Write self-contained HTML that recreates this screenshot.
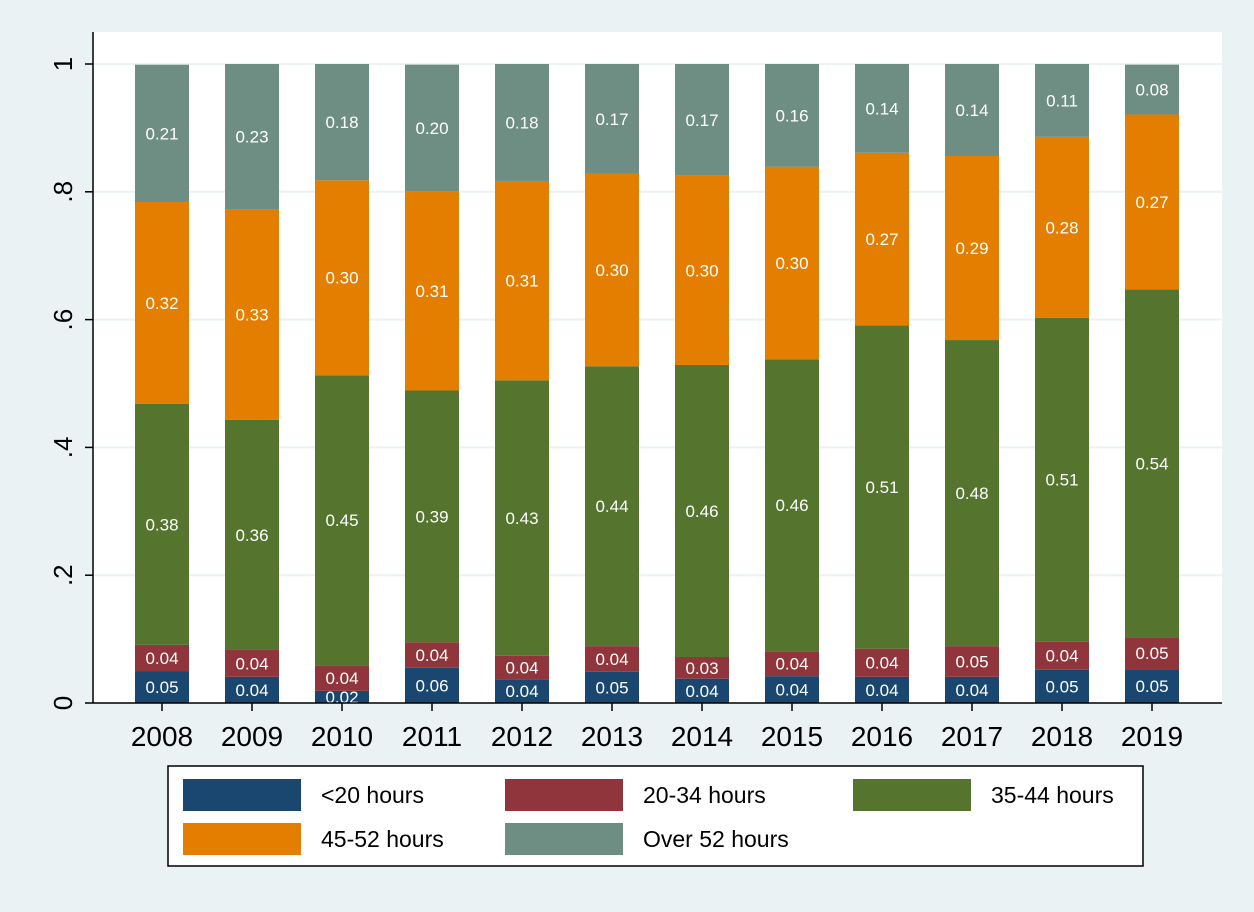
<!DOCTYPE html>
<html><head><meta charset="utf-8"><style>
body{margin:0;background:#eaf2f3;}
svg{display:block;font-family:"Liberation Sans",sans-serif;}
</style></head><body>
<svg id="chart" width="1254" height="912">
<rect x="0" y="0" width="1254" height="912" fill="#eaf2f3"/>
<rect x="93" y="32" width="1129" height="671" fill="#ffffff"/>
<g id="grid"></g><g id="bars"></g><g id="axes"></g>
<g>
<rect x="168" y="766" width="975" height="100" fill="#fff" stroke="#000" stroke-width="1.5"/>
<g id="legend"></g>
</g>
</svg>
<script>
const years=["2008","2009","2010","2011","2012","2013","2014","2015","2016","2017","2018","2019"];
const lt20=[.050,.041,.019,.055,.037,.049,.038,.042,.041,.041,.052,.053];
const h20_34=[.041,.042,.040,.040,.037,.040,.034,.039,.044,.048,.044,.050];
const h35_44=[.377,.360,.454,.394,.431,.438,.457,.457,.506,.479,.507,.544];
const h45_52=[.316,.330,.305,.311,.312,.301,.296,.301,.270,.288,.283,.274];
const over52=[.2149,.227,.182,.199,.183,.172,.175,.161,.139,.144,.114,.078];
const seriesNames=["<20 hours","20-34 hours","35-44 hours","45-52 hours","Over 52 hours"];
const yTicks=[0,.2,.4,.6,.8,1];
const yTickLabels=["0",".2",".4",".6",".8","1"];
const colors=["#1a476f","#90353b","#55752f","#e37e00","#6e8e84"];
const series=[lt20,h20_34,h35_44,h45_52,over52];
const NS="http://www.w3.org/2000/svg";
const y=v=>703-v*639;
const x=i=>162+i*90;
const bw=54;
function mk(t,a,p){const e=document.createElementNS(NS,t);for(const k in a)e.setAttribute(k,a[k]);p.appendChild(e);return e;}
const grid=document.getElementById('grid'),bars=document.getElementById('bars'),axes=document.getElementById('axes'),leg=document.getElementById('legend');
yTicks.forEach((t,i)=>{
 if(t>0){const g=mk('line',{x1:93,x2:1222,y1:y(t),y2:y(t),stroke:'#eaf2f3','stroke-width':2},grid);
 
 }
 const tk=mk('line',{x1:85,x2:93,y1:y(t),y2:y(t),stroke:'#000','stroke-width':1.5},axes);
 
 
 const tl=mk('text',{x:0,y:0,'font-size':26,'text-anchor':'middle',transform:`translate(72,${y(t)}) rotate(-90)`},axes);
 tl.textContent=yTickLabels[i];
 
 
});
years.forEach((yr,i)=>{
 let c=0;
 series.forEach((s,k)=>{
  const v=s[i];
  const top=Math.min(c+v,1);
  const r=mk('rect',{x:x(i)-bw/2,y:y(top),width:bw,height:(top-c)*639,fill:colors[k]},bars);
  
  
  const tx=mk('text',{x:x(i),y:y(c+v/2)+6,'font-size':17,fill:'#fff','text-anchor':'middle'},bars);
  tx.textContent=v.toFixed(2);
  
  
  c+=v;
 });
 const xl=mk('text',{x:x(i),y:746,'font-size':28,'text-anchor':'middle'},axes);
 xl.textContent=yr;
 
 
 const xt=mk('line',{x1:x(i),x2:x(i),y1:703,y2:711,stroke:'#000','stroke-width':1.5},axes);
 
 
});
const ya=mk('line',{x1:93,x2:93,y1:32,y2:703,stroke:'#000','stroke-width':1.5},axes);


const xa=mk('line',{x1:93,x2:1222,y1:703,y2:703,stroke:'#000','stroke-width':1.5},axes);


const lx=[183,505,853];
seriesNames.forEach((n,k)=>{
 const col=k%3,row=Math.floor(k/3);
 const sw=mk('rect',{x:lx[col],y:779+row*44,width:118,height:32,fill:colors[k]},leg);
 
 
 const t=mk('text',{x:lx[col]+138,y:803+row*44,'font-size':23},leg);
 t.textContent=n;
 
 
});
</script>
</body></html>
